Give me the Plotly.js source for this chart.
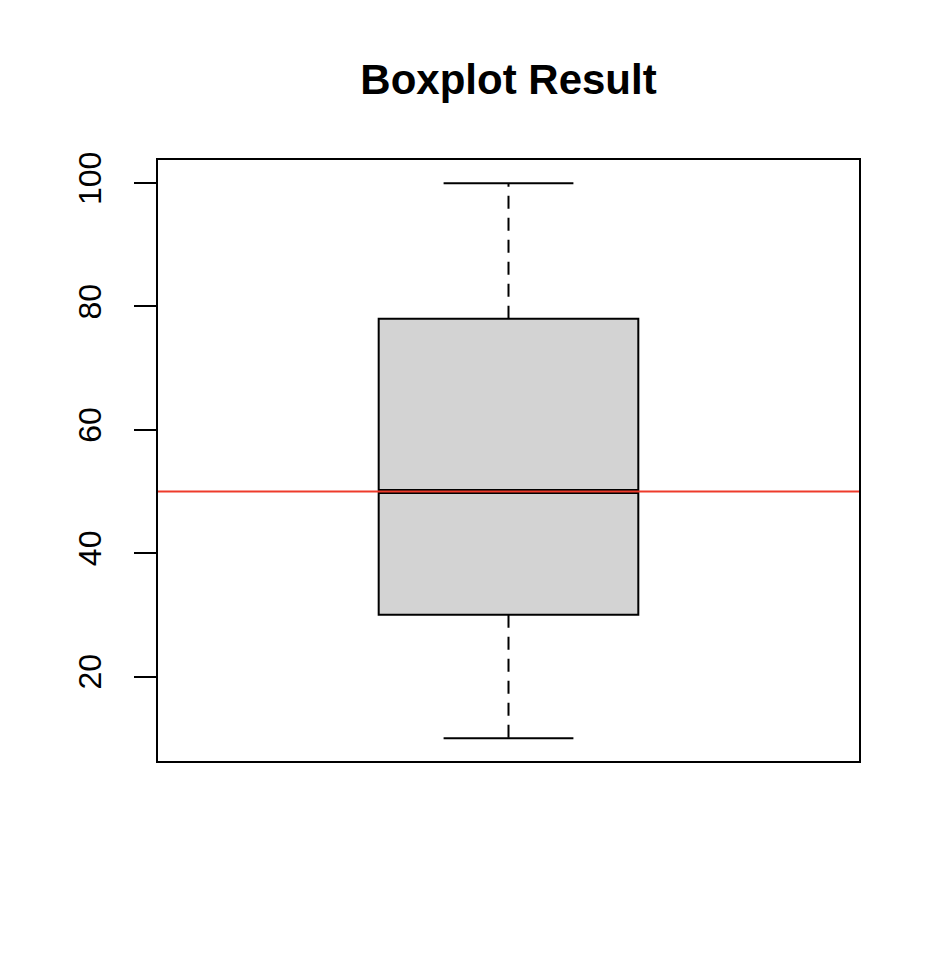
<!DOCTYPE html>
<html>
<head>
<meta charset="utf-8">
<script src="https://cdn.plot.ly/plotly-3.0.1.min.js"></script>
<style>html,body{margin:0;padding:0;background:#fff;}#chart{width:938px;height:954px;}</style>
</head>
<body>
<div id="chart"></div>
<script>
// Data
const chartTitle = "Boxplot Result";
const boxPosition = [1];
const minValue = [10];
const q1Value = [30];
const medianValue = [50];
const q3Value = [78];
const maxValue = [100];
const refLineValue = 50;
const yTickValues = [20, 40, 60, 80, 100];
const yTickLabels = ["20", "40", "60", "80", "100"];

const boxWidth = 0.4;
const capHalf = boxWidth / 4;
const xc = boxPosition[0];

const traces = [
  {
    type: 'box',
    x: boxPosition,
    q1: q1Value, median: medianValue, q3: q3Value,
    lowerfence: q1Value, upperfence: q3Value,
    width: boxWidth,
    fillcolor: '#D3D3D3',
    line: {color: '#000000', width: 2},
    boxpoints: false,
    hoverinfo: 'skip',
    showlegend: false
  },
  // median (thick)
  {type: 'scatter', mode: 'lines', x: [xc - boxWidth/2, xc + boxWidth/2], y: [medianValue[0], medianValue[0]],
   line: {color: '#000000', width: 5}, hoverinfo: 'skip', showlegend: false},
  // upper whisker
  {type: 'scatter', mode: 'lines', x: [xc, xc], y: [q3Value[0], maxValue[0]],
   line: {color: '#000000', width: 2, dash: '13px,9px'}, hoverinfo: 'skip', showlegend: false},
  // lower whisker
  {type: 'scatter', mode: 'lines', x: [xc, xc], y: [q1Value[0], minValue[0]],
   line: {color: '#000000', width: 2, dash: '13px,9px'}, hoverinfo: 'skip', showlegend: false},
  // caps
  {type: 'scatter', mode: 'lines', x: [xc - capHalf, xc + capHalf], y: [maxValue[0], maxValue[0]],
   line: {color: '#000000', width: 2}, hoverinfo: 'skip', showlegend: false},
  {type: 'scatter', mode: 'lines', x: [xc - capHalf, xc + capHalf], y: [minValue[0], minValue[0]],
   line: {color: '#000000', width: 2}, hoverinfo: 'skip', showlegend: false}
];

const layout = {
  width: 938, height: 954,
  paper_bgcolor: '#ffffff', plot_bgcolor: '#ffffff',
  margin: {l: 158, r: 79, t: 160, b: 193},
  font: {family: '"Liberation Sans", Arial, sans-serif', color: '#000000'},
  title: {
    text: '<b>' + chartTitle + '</b>',
    font: {size: 42, color: '#000000', family: '"Liberation Sans", Arial, sans-serif'},
    x: 0.5, xref: 'paper', xanchor: 'center',
    y: 1 - 79/954, yref: 'container', yanchor: 'middle'
  },
  xaxis: {
    range: [0.46, 1.54], showgrid: false, zeroline: false,
    showticklabels: false, ticks: '',
    showline: true, mirror: true, linecolor: '#000000', linewidth: 2
  },
  yaxis: {
    range: [6.3, 103.75], showgrid: false, zeroline: false,
    tickmode: 'array', tickvals: yTickValues, ticktext: yTickLabels,
    ticks: 'outside', ticklen: 22, tickwidth: 2, tickcolor: '#000000',
    tickangle: -90, ticklabelstandoff: 20,
    tickfont: {size: 32, color: '#000000'},
    showline: true, mirror: true, linecolor: '#000000', linewidth: 2
  },
  shapes: [{
    type: 'line', xref: 'paper', x0: 0, x1: 1, yref: 'y', y0: refLineValue, y1: refLineValue,
    line: {color: '#EE3B2B', width: 1.8}, layer: 'above'
  }]
};

Plotly.newPlot('chart', traces, layout, {displayModeBar: false, staticPlot: true});
</script>
</body>
</html>
